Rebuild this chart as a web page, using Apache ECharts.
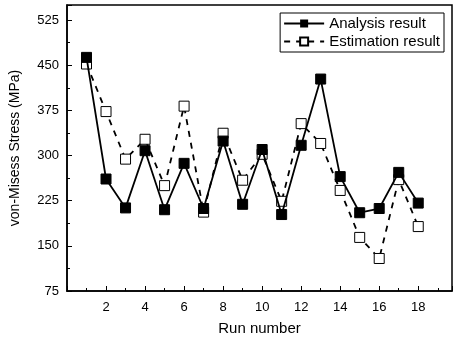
<!DOCTYPE html>
<html>
<head>
<meta charset="utf-8">
<script src="https://cdn.jsdelivr.net/npm/echarts@6/dist/echarts.min.js"></script>
<style>
  html, body { margin: 0; padding: 0; background: #fff; }
  #chart { width: 454px; height: 341px; }
</style>
</head>
<body>
<div id="chart"></div>
<script>
// run numbers 1..18
const runs = [1, 2, 3, 4, 5, 6, 7, 8, 9, 10, 11, 12, 13, 14, 15, 16, 17, 18]
const analysis = [463, 261, 213, 308, 210, 287, 212, 324, 219, 310, 202, 317, 427, 265, 205, 212, 272, 221]
const estimation = [452, 373, 294, 327, 250, 382, 206, 337, 259, 302, 224, 353, 320, 242, 164, 129, 260, 182]
const yTicks = [75, 150, 225, 300, 375, 450, 525]

const font = 'Liberation Sans, Arial, sans-serif'
const chart = echarts.init(document.getElementById('chart'))

const axisCommon = {
  axisLine: { lineStyle: { color: '#000', width: 1.5 } },
  axisTick: { inside: true, length: 5, lineStyle: { color: '#000' } },
  minorTick: { show: true, splitNumber: 2, length: 3, lineStyle: { color: '#000' } },
  splitLine: { show: false },
}

chart.setOption({
  animation: false,
  backgroundColor: '#fff',
  grid: { left: 66, right: 2, top: 5, bottom: 48, show: true, borderColor: '#000', borderWidth: 1.5 },
  legend: {
    right: 10, top: 13,
    orient: 'vertical',
    borderColor: '#000', borderWidth: 1,
    padding: [3, 4, 3, 3],
    itemGap: 3,
    itemWidth: 40, itemHeight: 10,
    textStyle: { color: '#000', fontSize: 15, fontFamily: font },
    data: ['Analysis result', 'Estimation result'],
  },
  xAxis: {
    type: 'value',
    min: 0, max: 19.73, interval: 2,
    name: 'Run number',
    nameLocation: 'middle', nameGap: 30,
    nameTextStyle: { color: '#000', fontSize: 15, fontFamily: font },
    axisLabel: {
      color: '#000', fontSize: 13, fontFamily: font, margin: 10,
      formatter: (v) => (v === 0 ? '' : v),
      showMaxLabel: false,
    },
    ...axisCommon,
  },
  yAxis: {
    type: 'value',
    min: yTicks[0], max: 550, interval: 75,
    name: 'von-Misess Stress (MPa)',
    nameLocation: 'middle', nameGap: 45,
    nameTextStyle: { color: '#000', fontSize: 14, fontFamily: font },
    axisLabel: {
      color: '#000', fontSize: 13, fontFamily: font, margin: 8,
      formatter: (v) => (yTicks.includes(v) ? v : ''),
      showMaxLabel: false,
    },
    ...axisCommon,
  },
  series: [
    {
      name: 'Estimation result',
      type: 'line',
      data: runs.map((r, i) => [r, estimation[i]]),
      symbol: 'rect', symbolSize: 10,
      itemStyle: { color: '#fff', borderColor: '#000', borderWidth: 1 },
      lineStyle: { color: '#000', width: 1.8, type: [6, 6] },
      z: 2,
    },
    {
      name: 'Analysis result',
      type: 'line',
      data: runs.map((r, i) => [r, analysis[i]]),
      symbol: 'rect', symbolSize: 10,
      itemStyle: { color: '#000', borderColor: '#000' },
      lineStyle: { color: '#000', width: 1.8 },
      z: 3,
    },
  ],
})
</script>
</body>
</html>
